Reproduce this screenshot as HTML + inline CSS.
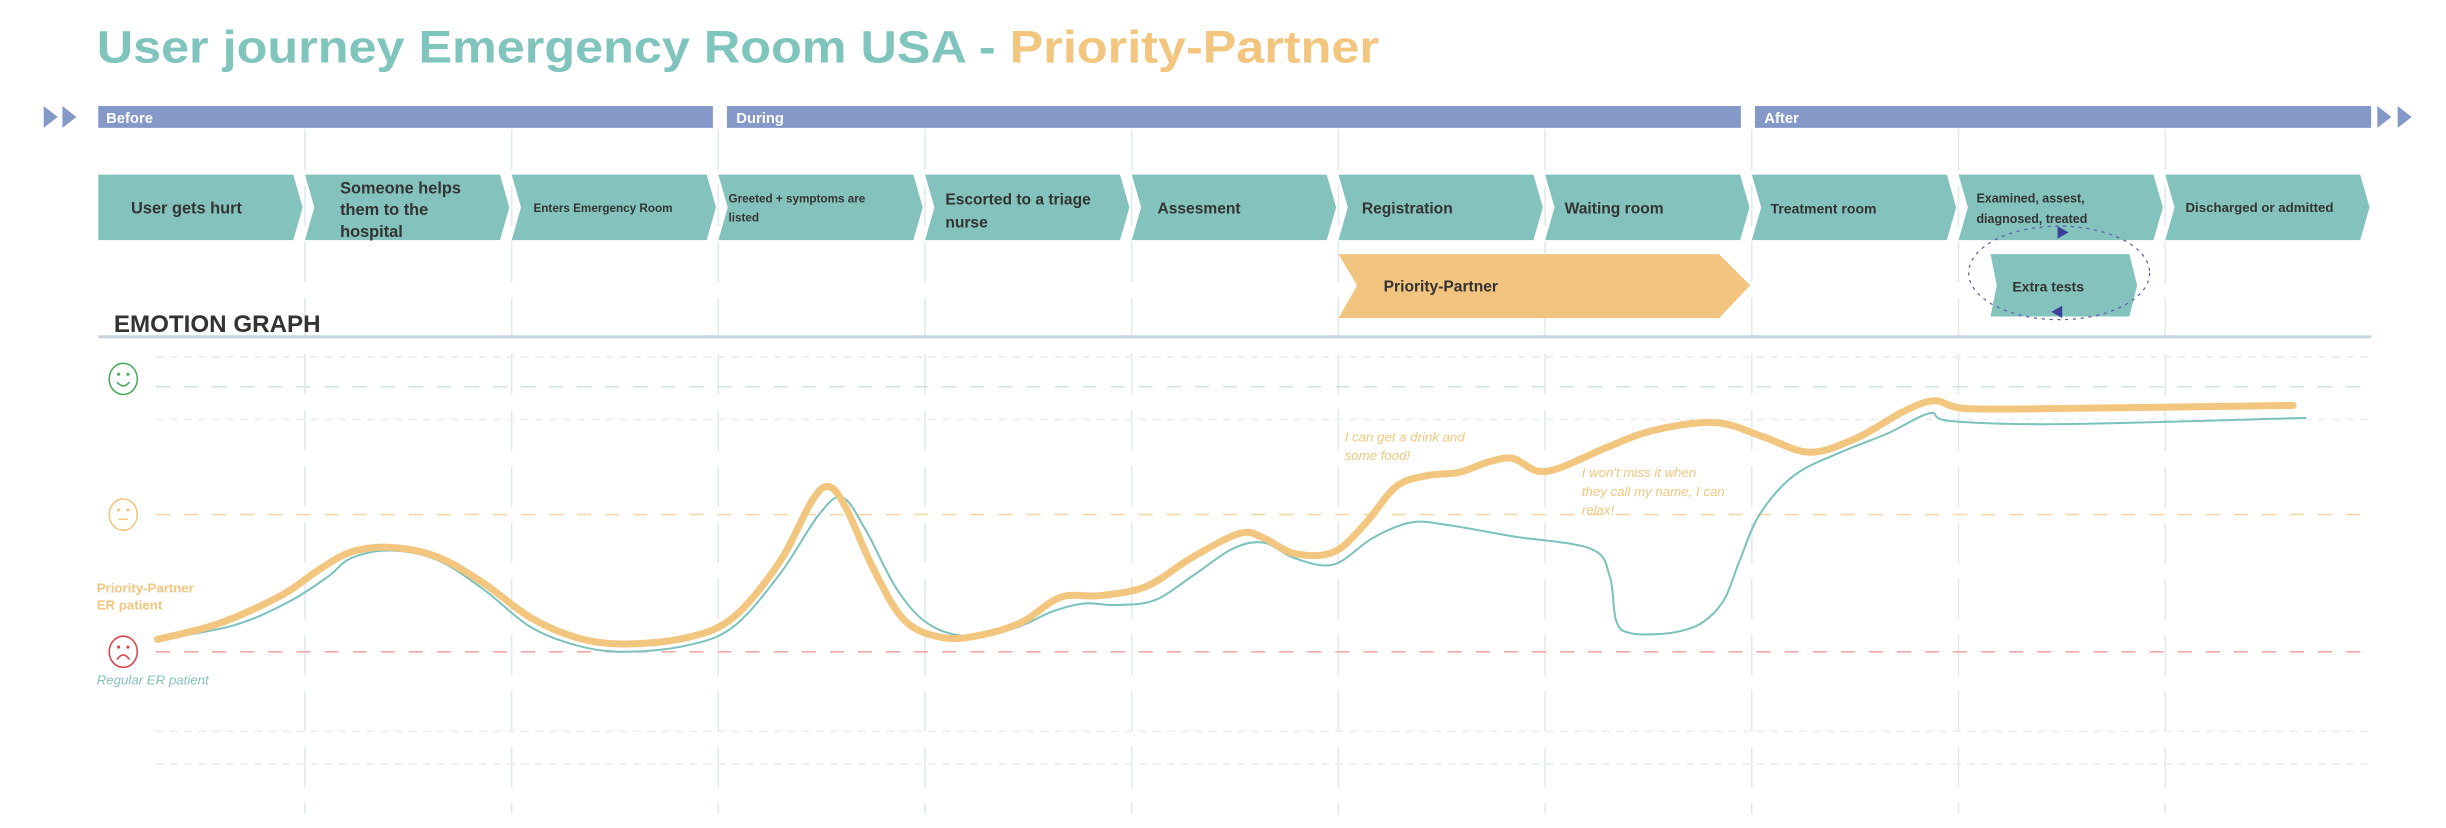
<!DOCTYPE html>
<html><head><meta charset="utf-8"><style>
html,body{margin:0;padding:0;background:#fff;}
svg{display:block;}
text{font-family:"Liberation Sans",sans-serif;}
</style></head><body>
<svg width="2446" height="828" viewBox="0 0 1568 531" preserveAspectRatio="none" xmlns="http://www.w3.org/2000/svg">
<!-- title -->
<text x="62" y="40" font-size="29" font-weight="bold" fill="#7fc4bd" textLength="822" lengthAdjust="spacingAndGlyphs">User journey Emergency Room USA - <tspan fill="#f2c67e">Priority-Partner</tspan></text>
<!-- grid verticals -->
<g stroke="#e1e8ef" stroke-width="1" stroke-dasharray="26,10">
<line x1="195.5" y1="83" x2="195.5" y2="522"/><line x1="328" y1="83" x2="328" y2="522"/><line x1="460.5" y1="83" x2="460.5" y2="522"/><line x1="593" y1="83" x2="593" y2="522"/><line x1="725.5" y1="83" x2="725.5" y2="522"/><line x1="858" y1="83" x2="858" y2="522"/><line x1="990.5" y1="83" x2="990.5" y2="522"/><line x1="1123" y1="83" x2="1123" y2="522"/><line x1="1255.5" y1="83" x2="1255.5" y2="522"/><line x1="1388" y1="83" x2="1388" y2="522"/>
</g>
<!-- phase bars -->
<g fill="#8499c8">
<rect x="63" y="68" width="394" height="14"/><rect x="466" y="68" width="650" height="14"/><rect x="1125" y="68" width="395" height="14"/>
<polygon points="28,68 37,75 28,82"/><polygon points="40,68 49,75 40,82"/>
<polygon points="1524,68 1533,75 1524,82"/><polygon points="1537,68 1546,75 1537,82"/>
</g>
<g fill="#fff" font-size="9.5" font-weight="bold"><text x="68" y="79">Before</text><text x="472" y="79">During</text><text x="1131" y="79">After</text></g>
<!-- chevrons -->
<g fill="#84c3bd">
<polygon points="63,112 188,112 194,133 188,154 63,154"/>
<polygon points="195.5,112 320.5,112 326.5,133 320.5,154 195.5,154 201.5,133"/>
<polygon points="328,112 453,112 459,133 453,154 328,154 334,133"/>
<polygon points="460.5,112 585.5,112 591.5,133 585.5,154 460.5,154 466.5,133"/>
<polygon points="593,112 718,112 724,133 718,154 593,154 599,133"/>
<polygon points="725.5,112 850.5,112 856.5,133 850.5,154 725.5,154 731.5,133"/>
<polygon points="858,112 983,112 989,133 983,154 858,154 864,133"/>
<polygon points="990.5,112 1115.5,112 1121.5,133 1115.5,154 990.5,154 996.5,133"/>
<polygon points="1123,112 1248,112 1254,133 1248,154 1123,154 1129,133"/>
<polygon points="1255.5,112 1380.5,112 1386.5,133 1380.5,154 1255.5,154 1261.5,133"/>
<polygon points="1388,112 1513,112 1519,133 1513,154 1388,154 1394,133"/>
</g>
<g fill="#333" font-weight="bold">
<text x="84" y="137" font-size="10.5">User gets hurt</text>
<text x="218" y="124" font-size="10.5">Someone helps</text><text x="218" y="138" font-size="10.5">them to the</text><text x="218" y="152" font-size="10.5">hospital</text>
<text x="342" y="136" font-size="7.5">Enters Emergency Room</text>
<text x="467" y="130" font-size="7.5">Greeted + symptoms are</text><text x="467" y="142" font-size="7.5">listed</text>
<text x="606" y="131" font-size="10">Escorted to a triage</text><text x="606" y="146" font-size="10">nurse</text>
<text x="742" y="137" font-size="10">Assesment</text>
<text x="873" y="137" font-size="10">Registration</text>
<text x="1003" y="137" font-size="10">Waiting room</text>
<text x="1135" y="137" font-size="9">Treatment room</text>
<text x="1267" y="130" font-size="8">Examined, assest,</text><text x="1267" y="143" font-size="8">diagnosed, treated</text>
<text x="1401" y="136" font-size="8.5">Discharged or admitted</text>
</g>
<!-- priority partner -->
<polygon points="858,163 1102,163 1122,183 1102,204 858,204 870,183" fill="#f1c57f"/>
<text x="887" y="187" font-size="10" font-weight="bold" fill="#333">Priority-Partner</text>
<!-- extra tests -->
<polygon points="1276,163 1365,163 1370,183 1365,203 1276,203 1280,183" fill="#84c3bd"/>
<text x="1290" y="187" font-size="9" font-weight="bold" fill="#333">Extra tests</text>
<ellipse cx="1320" cy="175" rx="58" ry="30" fill="none" stroke="#5b5fa8" stroke-width="0.8" stroke-dasharray="2,3"/>
<polygon points="1319,145 1326,149 1319,153" fill="#3b3f98"/>
<polygon points="1322,196 1315,200 1322,204" fill="#3b3f98"/>
<!-- emotion graph -->
<text x="73" y="213" font-size="15.5" font-weight="bold" fill="#333">EMOTION GRAPH</text>
<line x1="63" y1="216" x2="1520" y2="216" stroke="#c5d5df" stroke-width="2"/>
<g stroke-width="1" fill="none">
<line x1="100" y1="229" x2="1520" y2="229" stroke="#e8eef3" stroke-dasharray="5,4"/>
<line x1="100" y1="248" x2="1520" y2="248" stroke="#cfe6d8" stroke-dasharray="9,9"/>
<line x1="100" y1="269" x2="1520" y2="269" stroke="#e8eef3" stroke-dasharray="5,4"/>
<line x1="100" y1="330" x2="1520" y2="330" stroke="#f5d7a6" stroke-dasharray="9,9"/>
<line x1="100" y1="418" x2="1520" y2="418" stroke="#f2aaa8" stroke-dasharray="9,9"/>
<line x1="100" y1="469" x2="1520" y2="469" stroke="#e8eef3" stroke-dasharray="5,4"/>
<line x1="100" y1="490" x2="1520" y2="490" stroke="#e8eef3" stroke-dasharray="5,4"/>
</g>
<!-- smileys -->
<g fill="none" stroke-width="1">
<ellipse cx="79" cy="243" rx="9" ry="10" stroke="#4caa5c"/><circle cx="76" cy="240" r="1" fill="#4caa5c" stroke="none"/><circle cx="82" cy="240" r="1" fill="#4caa5c" stroke="none"/><path d="M75,245 Q79,250 83,245" stroke="#4caa5c"/>
<ellipse cx="79" cy="330" rx="9" ry="10" stroke="#f2c67e"/><circle cx="76" cy="327" r="1" fill="#f2c67e" stroke="none"/><circle cx="82" cy="327" r="1" fill="#f2c67e" stroke="none"/><line x1="76" y1="333" x2="82" y2="333" stroke="#f2c67e"/>
<ellipse cx="79" cy="418" rx="9" ry="10" stroke="#d9434b"/><circle cx="76" cy="415" r="1" fill="#d9434b" stroke="none"/><circle cx="82" cy="415" r="1" fill="#d9434b" stroke="none"/><path d="M75,423 Q79,417 83,423" stroke="#d9434b"/>
</g>
<text x="62" y="380" font-size="8.5" font-weight="bold" fill="#f2c67e">Priority-Partner</text>
<text x="62" y="391" font-size="8.5" font-weight="bold" fill="#f2c67e">ER patient</text>
<text x="62" y="439" font-size="8.5" font-style="italic" fill="#84c3bd">Regular ER patient</text>
<text x="862" y="283" font-size="8.5" font-style="italic" fill="#f2c67e">I can get a drink and</text>
<text x="862" y="295" font-size="8.5" font-style="italic" fill="#f2c67e">some food!</text>
<text x="1014" y="306" font-size="8.5" font-style="italic" fill="#f2c67e">I won't miss it when</text>
<text x="1014" y="318" font-size="8.5" font-style="italic" fill="#f2c67e">they call my name, I can</text>
<text x="1014" y="330" font-size="8.5" font-style="italic" fill="#f2c67e">relax!</text>
<path id="teal" fill="none" stroke="#7cc2bc" stroke-width="1.3" stroke-linecap="round"/>
<path id="orange" fill="none" stroke="#f2c67e" stroke-width="4.5" stroke-linecap="round"/>
</svg>
<script>
function smooth(p){
 var d="M"+p[0][0]+","+p[0][1];
 for(var i=0;i<p.length-1;i++){
  var p0=p[i-1]||p[i],p1=p[i],p2=p[i+1],p3=p[i+2]||p2;
  var c1x=p1[0]+(p2[0]-p0[0])/6,c1y=p1[1]+(p2[1]-p0[1])/6;
  var c2x=p2[0]-(p3[0]-p1[0])/6,c2y=p2[1]-(p3[1]-p1[1])/6;
  d+=" C"+c1x+","+c1y+" "+c2x+","+c2y+" "+p2[0]+","+p2[1];
 }
 return d;
}
var o=[[101,410],[140,400],[180,382],[205,365],[225,354],[250,351],[280,357],[310,374],[340,396],[370,409],[400,413],[440,409],[470,396],[500,360],[520,322],[531,312],[542,325],[560,365],[580,398],[605,409],[630,407],[655,399],[680,383],[705,382],[735,376],[765,357],[795,342],[810,345],[830,355],[855,354],[875,336],[895,312],[915,305],[935,303],[955,296],[970,294],[985,302],[1000,300],[1030,287],[1060,276],[1100,271],[1130,280],[1160,290],[1190,281],[1220,264],[1240,257],[1260,262],[1320,262],[1470,260]];
var t=[[103,410],[150,401],[185,386],[210,370],[225,358],[250,353],[280,359],[310,378],[340,402],[370,414],[400,418],[440,414],[470,402],[500,368],[525,330],[540,319],[555,340],[575,378],[595,400],[620,408],[650,403],[675,392],[695,387],[715,388],[740,385],[765,369],[790,352],[810,348],[830,358],[855,362],[880,345],[905,335],[930,337],[970,344],[1020,352],[1032,370],[1036,398],[1045,406],[1070,406],[1090,400],[1105,385],[1115,360],[1128,330],[1150,305],[1180,290],[1210,278],[1237,265],[1250,270],[1320,272],[1478,268]];
document.getElementById('orange').setAttribute('d',smooth(o));
document.getElementById('teal').setAttribute('d',smooth(t));
</script>
</body></html>
